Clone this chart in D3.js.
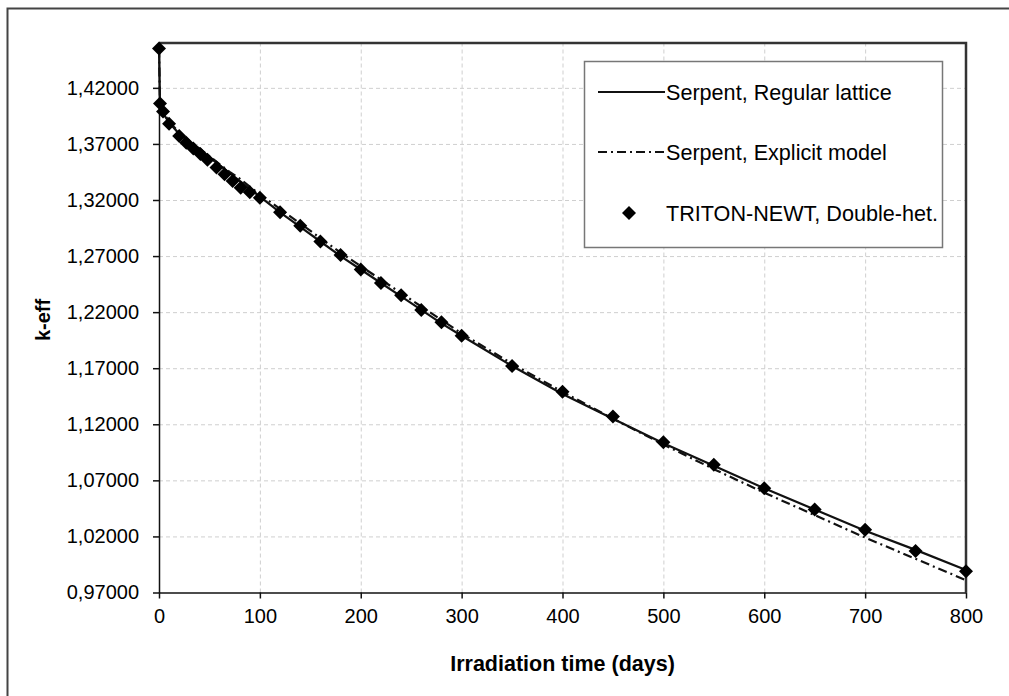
<!DOCTYPE html>
<html>
<head>
<meta charset="utf-8">
<script src="https://cdn.jsdelivr.net/npm/d3@7"></script>
<style>
  body { margin: 0; background: #fff; }
  svg { display: block; font-family: "Liberation Sans", Arial, sans-serif; }
  .grid line { stroke: #cfcfcf; stroke-dasharray: 4,3; }
  .grid path { display: none; }
  .axis text { font-size: 20px; fill: #000; }
  .axis path, .axis line { stroke: #111; stroke-width: 1.5; }
</style>
</head>
<body>
<svg width="1009" height="696"></svg>
<script>
// data
var yTicks = [0.97, 1.02, 1.07, 1.12, 1.17, 1.22, 1.27, 1.32, 1.37, 1.42];
var xTicks = [0, 100, 200, 300, 400, 500, 600, 700, 800];

var regularDays = [0, 1, 5, 10, 20, 30, 40, 50, 60, 70, 80, 90, 100, 120, 140, 160, 180, 200, 220, 240, 260, 280, 300, 350, 400, 450, 500, 550, 600, 650, 700, 750, 800];
var regularK = [1.455, 1.405, 1.396, 1.389, 1.379, 1.372, 1.365, 1.358, 1.351, 1.344, 1.337, 1.330, 1.323, 1.309, 1.296, 1.283, 1.270, 1.258, 1.246, 1.234, 1.222, 1.210, 1.199, 1.172, 1.147, 1.125, 1.103, 1.083, 1.063, 1.044, 1.025, 1.008, 0.990];

var explicitDays = [0, 1, 5, 10, 20, 30, 40, 50, 60, 70, 80, 90, 100, 120, 140, 160, 180, 200, 220, 240, 260, 280, 300, 350, 400, 450, 500, 550, 600, 650, 700, 750, 800];
var explicitK = [1.455, 1.406, 1.397, 1.390, 1.380, 1.373, 1.366, 1.359, 1.352, 1.345, 1.339, 1.332, 1.325, 1.312, 1.299, 1.286, 1.273, 1.261, 1.249, 1.237, 1.225, 1.213, 1.201, 1.174, 1.149, 1.125, 1.102, 1.080, 1.059, 1.039, 1.019, 1.000, 0.981];

var tritonDays = [0, 1, 4, 10, 20, 27, 34, 41, 48, 57, 65, 73, 81, 90, 100, 120, 140, 160, 180, 200, 220, 240, 260, 280, 300, 350, 400, 450, 500, 550, 600, 650, 700, 750, 800];
var tritonK = [1.455, 1.406, 1.399, 1.388, 1.377, 1.371, 1.366, 1.361, 1.356, 1.349, 1.343, 1.337, 1.331, 1.327, 1.322, 1.309, 1.297, 1.283, 1.271, 1.258, 1.246, 1.235, 1.222, 1.211, 1.199, 1.172, 1.149, 1.127, 1.104, 1.084, 1.063, 1.044, 1.026, 1.007, 0.989];

var legendNames = ["Serpent, Regular lattice", "Serpent, Explicit model", "TRITON-NEWT, Double-het."];

var svg = d3.select("svg");

// outer frame (only left and top edges fall inside the picture)
svg.append("rect")
    .attr("x", 7.5).attr("y", 8.5)
    .attr("width", 1100).attr("height", 800)
    .attr("fill", "none").attr("stroke", "#444").attr("stroke-width", 2);

var plotLeft = 159, plotRight = 966, plotTop = 43, plotBottom = 592.5;

var x = d3.scaleLinear().domain([0, 800]).range([plotLeft, plotRight]);
var y = d3.scaleLinear().domain([0.97, 1.46]).range([plotBottom, plotTop]);

var locale = d3.formatLocale({decimal: ",", thousands: ".", grouping: [3], currency: ["", ""]});
var yFmt = locale.format(".5f");

// gridlines
svg.append("g")
    .attr("class", "grid")
    .attr("transform", "translate(" + plotLeft + ",0)")
    .call(d3.axisLeft(y).tickValues(yTicks.slice(1)).tickSize(-(plotRight - plotLeft)).tickFormat(""));
svg.append("g")
    .attr("class", "grid")
    .attr("transform", "translate(0," + plotBottom + ")")
    .call(d3.axisBottom(x).tickValues(xTicks.slice(1, -1)).tickSize(-(plotBottom - plotTop)).tickFormat(""));

// plot border top/right
svg.append("path")
    .attr("d", "M" + plotLeft + "," + plotTop + "H" + plotRight + "V" + plotBottom)
    .attr("fill", "none").attr("stroke", "#333").attr("stroke-width", 2.5);

// axes
svg.append("g")
    .attr("class", "axis")
    .attr("transform", "translate(" + plotLeft + ",0)")
    .call(d3.axisLeft(y).tickValues(yTicks).tickSize(6).tickSizeOuter(0).tickPadding(14).tickFormat(yFmt));
svg.append("g")
    .attr("class", "axis")
    .attr("transform", "translate(0," + plotBottom + ")")
    .call(d3.axisBottom(x).tickValues(xTicks).tickSize(6).tickSizeOuter(0).tickPadding(10).tickFormat(d3.format("d")));

// axis titles
svg.append("text")
    .attr("x", (plotLeft + plotRight) / 2).attr("y", 671)
    .attr("text-anchor", "middle")
    .style("font-size", "21.5px").style("font-weight", "bold")
    .text("Irradiation time (days)");
svg.append("text")
    .attr("transform", "translate(50,320) rotate(-90)")
    .attr("text-anchor", "middle")
    .style("font-size", "20px").style("font-weight", "bold")
    .text("k-eff");

// lines
var line = d3.line()
    .x(function(d) { return x(d[0]); })
    .y(function(d) { return y(d[1]); });

var regular = regularDays.map(function(d, i) { return [d, regularK[i]]; });
var explicit = explicitDays.map(function(d, i) { return [d, explicitK[i]]; });
var triton = tritonDays.map(function(d, i) { return [d, tritonK[i]]; });

svg.append("path")
    .datum(explicit)
    .attr("d", line)
    .attr("fill", "none").attr("stroke", "#111").attr("stroke-width", 2.2)
    .attr("stroke-dasharray", "9,4,2,4");
svg.append("path")
    .datum(regular)
    .attr("d", line)
    .attr("fill", "none").attr("stroke", "#111").attr("stroke-width", 2.2);

// diamonds
var diamond = function(cx, cy) {
  return "M" + cx + "," + (cy - 7) + "L" + (cx + 7) + "," + cy + "L" + cx + "," + (cy + 7) + "L" + (cx - 7) + "," + cy + "Z";
};
svg.selectAll(".dot")
    .data(triton)
  .enter().append("path")
    .attr("class", "dot")
    .attr("d", function(d) { return diamond(x(d[0]), y(d[1])); })
    .attr("fill", "#000");

// legend
var lg = svg.append("g");
lg.append("rect")
    .attr("x", 584.5).attr("y", 61.5).attr("width", 358).attr("height", 186)
    .attr("fill", "#fff").attr("stroke", "#777").attr("stroke-width", 1.5);
var rowY = [92, 152, 213];
lg.append("line")
    .attr("x1", 598).attr("x2", 665).attr("y1", rowY[0]).attr("y2", rowY[0])
    .attr("stroke", "#111").attr("stroke-width", 2);
lg.append("line")
    .attr("x1", 598).attr("x2", 665).attr("y1", rowY[1]).attr("y2", rowY[1])
    .attr("stroke", "#111").attr("stroke-width", 2).attr("stroke-dasharray", "9,4,2,4");
lg.append("path")
    .attr("d", diamond(629, rowY[2]))
    .attr("fill", "#000");
lg.selectAll(".ltext")
    .data(legendNames)
  .enter().append("text")
    .attr("class", "ltext")
    .attr("x", 666)
    .attr("y", function(d, i) { return rowY[i]; })
    .attr("dy", "0.35em")
    .style("font-size", "21.6px")
    .attr("fill", "#000")
    .text(function(d) { return d; });
</script>
</body>
</html>
